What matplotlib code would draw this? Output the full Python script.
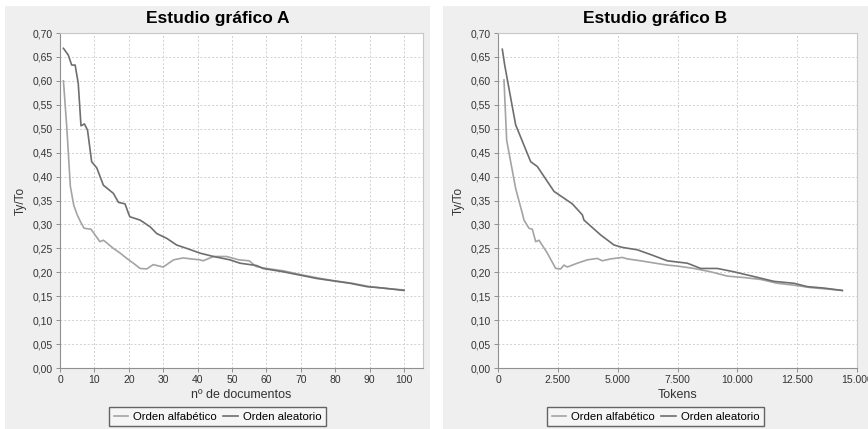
import numpy as np
import matplotlib
matplotlib.use('Agg')
from matplotlib import pyplot as plt
from matplotlib.patches import Rectangle
from matplotlib.ticker import FuncFormatter, MultipleLocator

plt.rcParams['font.family'] = ['Liberation Sans', 'DejaVu Sans']

# Estudio grafico A  (x = n de documentos)
a_alf_x = [1, 2, 3, 4, 5, 6, 7, 9, 10, 11.6, 12.6, 13.5, 15.5, 17.5, 19.4, 21.5, 23.3, 25.2, 27.1, 30,
           33, 35.8, 38, 40.7, 41.6, 44.6, 48.4, 52, 55, 57, 60, 65, 70, 75, 80, 85, 90, 95, 100]
a_alf_y = [0.60, 0.50, 0.38, 0.34, 0.32, 0.305, 0.292, 0.29, 0.28, 0.264, 0.267, 0.262, 0.25, 0.24, 0.229,
           0.218, 0.208, 0.207, 0.216, 0.211, 0.226, 0.23, 0.228, 0.226, 0.224, 0.233, 0.233, 0.226, 0.224,
           0.212, 0.208, 0.203, 0.195, 0.188, 0.182, 0.177, 0.170, 0.166, 0.163]
a_ale_x = [1, 2.4, 3.4, 4.4, 5.3, 6.1, 7.1, 8, 9.2, 10.7, 12.6, 15.5, 17, 18.9, 19.9, 20.3, 23.3, 26.2,
           28.1, 31, 33.9, 36.8, 40.7, 44.6, 49.4, 52.3, 57.2, 59, 64.9, 69.8, 74.7, 79.5, 84.3, 89.2, 94, 100]
a_ale_y = [0.668, 0.654, 0.633, 0.633, 0.595, 0.506, 0.51, 0.497, 0.431, 0.418, 0.382, 0.365, 0.346, 0.343,
           0.323, 0.316, 0.309, 0.295, 0.281, 0.271, 0.257, 0.25, 0.24, 0.233, 0.226, 0.219, 0.214, 0.208,
           0.201, 0.194, 0.187, 0.182, 0.177, 0.17, 0.167, 0.162]

# Estudio grafico B  (x = Tokens)
b_alf_x = [250, 362, 738, 1017, 1086, 1295, 1434, 1574, 1713, 2062, 2410, 2619, 2758, 2897, 3315, 3733,
           4151, 4360, 4708, 5195, 5404, 5960, 7075, 7493, 8191, 8888, 9583, 10279, 10976, 11672, 12368,
           13064, 13760, 14387]
b_alf_y = [0.602, 0.476, 0.375, 0.323, 0.309, 0.292, 0.29, 0.264, 0.267, 0.24, 0.208, 0.207, 0.215, 0.211,
           0.219, 0.226, 0.229, 0.224, 0.228, 0.231, 0.228, 0.224, 0.215, 0.213, 0.208, 0.201, 0.192, 0.189,
           0.185, 0.177, 0.173, 0.168, 0.165, 0.162]
b_ale_x = [180, 280, 418, 738, 1366, 1643, 2340, 3106, 3524, 3593, 4290, 4847, 5195, 5820, 6380, 7075,
           7911, 8470, 9165, 9861, 10697, 11532, 12368, 12925, 13621, 14387]
b_ale_y = [0.666, 0.633, 0.595, 0.508, 0.431, 0.421, 0.369, 0.343, 0.32, 0.309, 0.278, 0.257, 0.252, 0.247,
           0.237, 0.224, 0.219, 0.208, 0.208, 0.201, 0.191, 0.181, 0.177, 0.170, 0.167, 0.162]

titles = ['Estudio gráfico A', 'Estudio gráfico B']
xlabels = ['nº de documentos', 'Tokens']
labels = ['Orden alfabético', 'Orden aleatorio']
c_alf = '#a4a4a4'
c_ale = '#6e6e6e'


def thousands(v, pos):
    return '{:,.0f}'.format(v).replace(',', '.')


def comma(v, pos):
    return '{:.2f}'.format(v).replace('.', ',')


fig = plt.figure(figsize=(8.68, 4.29), dpi=100)
fig.patch.set_facecolor('white')
W, H = 868.0, 429.0
panels = [(5, 430), (443, 868)]
# panel backgrounds
for p0, p1 in panels:
    fig.patches.append(Rectangle((p0 / W, 0), (p1 - p0) / W, 1 - 6 / H, transform=fig.transFigure,
                                 facecolor='#efefef', edgecolor='none', zorder=-5))

ax1 = fig.add_axes([60 / W, 1 - 368 / H, 363 / W, 335 / H])
ax2 = fig.add_axes([498 / W, 1 - 368 / H, 359 / W, 335 / H])

data = [(a_alf_x, a_alf_y, a_ale_x, a_ale_y), (b_alf_x, b_alf_y, b_ale_x, b_ale_y)]
for i, ax in enumerate([ax1, ax2]):
    xa, ya, xb, yb = data[i]
    l1, = ax.plot(xa, ya, color=c_alf, lw=1.2, label=labels[0])
    l2, = ax.plot(xb, yb, color=c_ale, lw=1.2, label=labels[1])
    ax.set_facecolor('white')
    ax.set_ylim(0, 0.70)
    ax.yaxis.set_major_locator(MultipleLocator(0.05))
    ax.yaxis.set_major_formatter(FuncFormatter(comma))
    if i == 0:
        ax.set_xlim(0, 105.5)
        ax.set_xticks(np.arange(0, 101, 10))
    else:
        ax.set_xlim(0, 15000)
        ax.set_xticks(np.arange(0, 15001, 2500))
        ax.xaxis.set_major_formatter(FuncFormatter(thousands))
    ax.grid(True, color='#d0d0d0', linestyle=(0, (2, 2)), lw=0.7)
    ax.set_axisbelow(True)
    for s in ['top', 'right']:
        ax.spines[s].set_color('#c8c8c8')
    for s in ['left', 'bottom']:
        ax.spines[s].set_color('#909090')
    ax.tick_params(labelsize=7.5, length=3, width=0.7, color='#909090', pad=2, labelcolor='#333333')
    pc = (panels[i][0] + panels[i][1]) / 2.0 / W
    fig.text(pc, 1 - 18 / H, titles[i], fontsize=12.5, fontweight='bold', ha='center', va='center')
    ax.set_xlabel(xlabels[i], fontsize=9, labelpad=3, color='#333333')
    ax.set_ylabel('Ty/To', fontsize=8.5, labelpad=4, color='#333333')
    leg = ax.legend(handles=[l1, l2], loc='upper center', bbox_to_anchor=(pc, 1 - 407 / H),
                    bbox_transform=fig.transFigure, ncol=2,
                    frameon=True, fancybox=False, fontsize=8.2, handlelength=1.3, handletextpad=0.4,
                    columnspacing=0.6, borderpad=0.4, borderaxespad=0)
    leg.get_frame().set_edgecolor('#404040')
    leg.get_frame().set_facecolor('#f7f7f7')
    leg.get_frame().set_linewidth(1.0)

fig.savefig('out.png', dpi=100)
